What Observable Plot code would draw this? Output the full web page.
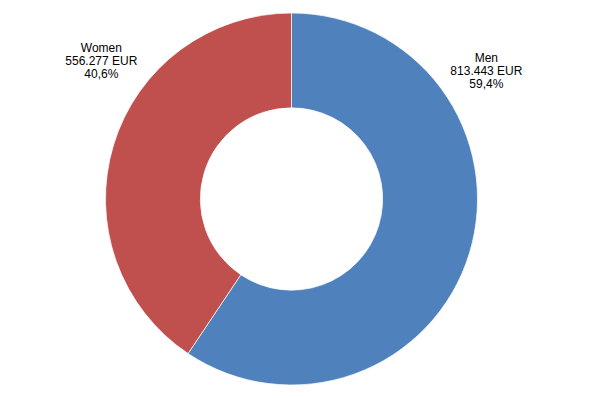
<!DOCTYPE html>
<html>
<head>
<meta charset="utf-8">
<script src="https://cdn.jsdelivr.net/npm/d3@7"></script>
<script src="https://cdn.jsdelivr.net/npm/@observablehq/plot@0.6"></script>
<style>
  html, body { margin: 0; padding: 0; background: #fff; }
  svg { display: block; }
</style>
</head>
<body>
<div id="chart"></div>
<script>
// Data
const categories = ["Men", "Women"];
const amounts = [813443, 556277];
const colors = ["#4F81BD", "#C0504D"];
const currency = "EUR";

// Layout (not data)
const W = 589, H = 398;
const cx = 291.5, cy = 199, R = 186, innerFrac = 0.49;
// label anchors in unit-circle coordinates
const labelPos = {Men: [1.045, 0.69], Women: [-1.025, 0.745]};

const loc = d3.formatLocale({decimal: ",", thousands: ".", grouping: [3], currency: ["", ""]});
const fmtNum = loc.format(",d");
const fmtPct = loc.format(".1%");

const total = d3.sum(amounts);
const rows = categories.map((c, i) => ({
  category: c,
  amount: amounts[i],
  share: amounts[i] / total,
  lx: labelPos[c][0],
  ly: labelPos[c][1]
}));
rows.forEach(r => r.label = `${r.category}\n${fmtNum(r.amount)} ${currency}\n${fmtPct(r.share)}`);

const colorScale = Plot.scale({color: {domain: categories, range: colors}});

const pie = d3.pie().sort(null).value(d => d.amount);

function donut(index, scales, values, dimensions) {
  const arcs = pie(rows);
  const arc = d3.arc().outerRadius(R).innerRadius(R * innerFrac);
  const g = d3.create("svg:g").attr("transform", `translate(${scales.x(0)},${scales.y(0)})`);
  g.selectAll("path")
    .data(arcs)
    .join("path")
    .attr("d", arc)
    .attr("fill", d => colorScale.apply(d.data.category))
    .attr("stroke", "#ffffff")
    .attr("stroke-opacity", 0.7)
    .attr("stroke-width", 1);
  return g.node();
}

const chart = Plot.plot({
  width: W,
  height: H,
  margin: 0,
  x: {domain: [-1, 1], range: [cx - R, cx + R], axis: null},
  y: {domain: [-1, 1], range: [cy + R, cy - R], axis: null},
  style: {fontFamily: "Arial, 'Liberation Sans', sans-serif", background: "#fff"},
  marks: [
    donut,
    Plot.text(rows, {
      x: "lx",
      y: "ly",
      text: "label",
      fontSize: 12,
      lineHeight: 1.08,
      fill: "#000",
      textAnchor: "middle"
    })
  ]
});

document.getElementById("chart").appendChild(chart);
</script>
</body>
</html>
